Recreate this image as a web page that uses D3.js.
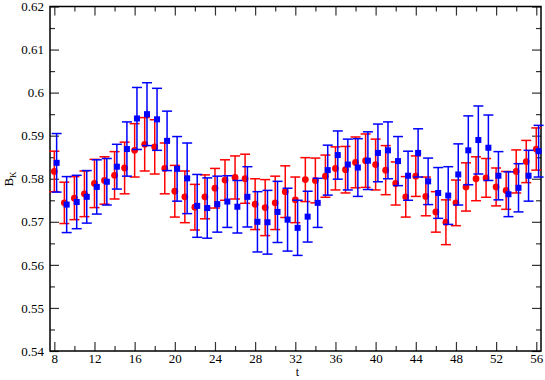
<!DOCTYPE html>
<html>
<head>
<meta charset="utf-8">
<script src="https://cdn.jsdelivr.net/npm/d3@7"></script>
<style>
  body { margin: 0; background: #fff; }
  svg { display: block; }
  .axis path { display: none; }
  .axis line { stroke: #333; stroke-width: 1.2; }
</style>
</head>
<body>
<div id="container"></div>
<script>
// time slices
const tValues = d3.range(8, 57);

// red circles
const redValues = [0.5817, 0.5744, 0.5755, 0.5765, 0.5789, 0.5796, 0.5808, 0.5825, 0.5866, 0.5880,
  0.5874, 0.5824, 0.5771, 0.5758, 0.5734, 0.5758, 0.5778, 0.5797, 0.5803, 0.5800,
  0.5741, 0.5733, 0.5744, 0.5770, 0.5751, 0.5798, 0.5796, 0.5806, 0.5824, 0.5821,
  0.5838, 0.5842, 0.5833, 0.5820, 0.5789, 0.5758, 0.5806, 0.5759, 0.5723, 0.5699,
  0.5744, 0.5781, 0.5800, 0.5802, 0.5781, 0.5773, 0.5817, 0.5840, 0.5869];
const redErrors = [0.0047, 0.0048, 0.0050, 0.0053, 0.0056, 0.0055, 0.0055, 0.0060, 0.0062, 0.0062,
  0.0063, 0.0059, 0.0060, 0.0060, 0.0053, 0.0051, 0.0046, 0.0047, 0.0050, 0.0057,
  0.0059, 0.0065, 0.0062, 0.0060, 0.0053, 0.0051, 0.0052, 0.0049, 0.0050, 0.0054,
  0.0059, 0.0062, 0.0059, 0.0057, 0.0050, 0.0047, 0.0047, 0.0045, 0.0047, 0.0052,
  0.0053, 0.0056, 0.0051, 0.0045, 0.0044, 0.0044, 0.0050, 0.0049, 0.0049];

// blue squares
const blueValues = [0.5837, 0.5740, 0.5746, 0.5758, 0.5781, 0.5793, 0.5828, 0.5869, 0.5940, 0.5950,
  0.5938, 0.5888, 0.5823, 0.5801, 0.5737, 0.5732, 0.5741, 0.5747, 0.5735, 0.5758,
  0.5700, 0.5699, 0.5723, 0.5705, 0.5686, 0.5712, 0.5744, 0.5820, 0.5855, 0.5833,
  0.5826, 0.5842, 0.5860, 0.5866, 0.5841, 0.5807, 0.5860, 0.5794, 0.5767, 0.5761,
  0.5810, 0.5866, 0.5890, 0.5872, 0.5807, 0.5764, 0.5779, 0.5807, 0.5864];
const blueErrors = [0.0068, 0.0065, 0.0062, 0.0061, 0.0063, 0.0054, 0.0052, 0.0063, 0.0072, 0.0073,
  0.0072, 0.0069, 0.0075, 0.0082, 0.0073, 0.0070, 0.0065, 0.0060, 0.0061, 0.0070,
  0.0070, 0.0074, 0.0071, 0.0073, 0.0064, 0.0059, 0.0057, 0.0058, 0.0056, 0.0059,
  0.0067, 0.0067, 0.0067, 0.0066, 0.0057, 0.0057, 0.0056, 0.0054, 0.0059, 0.0067,
  0.0071, 0.0080, 0.0079, 0.0076, 0.0056, 0.0052, 0.0056, 0.0059, 0.0060];
const blueShift = 0.23; // blue set drawn slightly right of the red one

// axis ticks
const xTicks = [8, 12, 16, 20, 24, 28, 32, 36, 40, 44, 48, 52, 56];
const xMinorTicks = [10, 14, 18, 22, 26, 30, 34, 38, 42, 46, 50, 54];
const yTicks = [0.54, 0.55, 0.56, 0.57, 0.58, 0.59, 0.6, 0.61, 0.62];
const yTickLabels = ["0.54", "0.55", "0.56", "0.57", "0.58", "0.59", "0.6", "0.61", "0.62"];
const yMinorTicks = [0.545, 0.555, 0.565, 0.575, 0.585, 0.595, 0.605, 0.615];

const width = 545, height = 380;
const plot = { left: 50, right: 541, top: 6.5, bottom: 351 };
const serif = "'Liberation Serif', 'Times New Roman', Times, serif";

const svg = d3.select("#container").append("svg")
  .attr("width", width)
  .attr("height", height);

const x = d3.scaleLinear().domain([7.57, 56.47]).range([plot.left, plot.right]);
const y = d3.scaleLinear().domain([0.54, 0.62]).range([plot.bottom, plot.top]);

const major = 9, minor = 5;

function styleAxis(g) {
  g.attr("font-family", serif).attr("font-size", 13);
  g.selectAll("text").attr("fill", "#000").style("font-family", serif).style("font-size", "13px");
}

// bottom axis
svg.append("g").attr("class", "axis")
  .attr("transform", "translate(0," + plot.bottom + ")")
  .call(d3.axisBottom(x).tickValues(xTicks).tickSize(-major).tickPadding(3).tickFormat(d3.format("d")))
  .call(styleAxis);
svg.append("g").attr("class", "axis")
  .attr("transform", "translate(0," + plot.bottom + ")")
  .call(d3.axisBottom(x).tickValues(xMinorTicks).tickSize(-minor).tickFormat(""));
// top axis
svg.append("g").attr("class", "axis")
  .attr("transform", "translate(0," + plot.top + ")")
  .call(d3.axisTop(x).tickValues(xTicks).tickSize(-major).tickFormat(""));
svg.append("g").attr("class", "axis")
  .attr("transform", "translate(0," + plot.top + ")")
  .call(d3.axisTop(x).tickValues(xMinorTicks).tickSize(-minor).tickFormat(""));
// left axis
svg.append("g").attr("class", "axis")
  .attr("transform", "translate(" + plot.left + ",0)")
  .call(d3.axisLeft(y).tickValues(yTicks).tickSize(-major).tickPadding(6)
    .tickFormat((d, i) => yTickLabels[i]))
  .call(styleAxis);
svg.append("g").attr("class", "axis")
  .attr("transform", "translate(" + plot.left + ",0)")
  .call(d3.axisLeft(y).tickValues(yMinorTicks).tickSize(-minor).tickFormat(""));
// right axis
svg.append("g").attr("class", "axis")
  .attr("transform", "translate(" + plot.right + ",0)")
  .call(d3.axisRight(y).tickValues(yTicks).tickSize(-major).tickFormat(""));
svg.append("g").attr("class", "axis")
  .attr("transform", "translate(" + plot.right + ",0)")
  .call(d3.axisRight(y).tickValues(yMinorTicks).tickSize(-minor).tickFormat(""));

// frame
svg.append("rect")
  .attr("x", plot.left).attr("y", plot.top)
  .attr("width", plot.right - plot.left).attr("height", plot.bottom - plot.top)
  .attr("fill", "none").attr("stroke", "#000").attr("stroke-width", 1.5);

// axis titles
svg.append("text")
  .attr("x", (plot.left + plot.right) / 2 + 2).attr("y", 376)
  .attr("text-anchor", "middle")
  .style("font-family", serif).style("font-size", "12px")
  .text("t");

const yTitle = svg.append("text")
  .attr("transform", "translate(13,179) rotate(-90)")
  .attr("text-anchor", "middle")
  .style("font-family", serif).style("font-size", "13px");
yTitle.append("tspan").text("B");
yTitle.append("tspan").attr("dy", 3).style("font-size", "9px").text("K");

function drawSet(values, errors, shift, color, shape) {
  const data = tValues.map((t, i) => ({ t: t + shift, v: values[i], e: errors[i] }));
  const g = svg.append("g");
  const cap = 5;

  g.selectAll("line.bar").data(data).enter().append("line")
    .attr("x1", d => x(d.t)).attr("x2", d => x(d.t))
    .attr("y1", d => y(d.v + d.e)).attr("y2", d => y(d.v - d.e))
    .attr("stroke", color).attr("stroke-width", 1.5);
  g.selectAll("line.top").data(data).enter().append("line")
    .attr("x1", d => x(d.t) - cap).attr("x2", d => x(d.t) + cap)
    .attr("y1", d => y(d.v + d.e)).attr("y2", d => y(d.v + d.e))
    .attr("stroke", color).attr("stroke-width", 1.5);
  g.selectAll("line.bottom").data(data).enter().append("line")
    .attr("x1", d => x(d.t) - cap).attr("x2", d => x(d.t) + cap)
    .attr("y1", d => y(d.v - d.e)).attr("y2", d => y(d.v - d.e))
    .attr("stroke", color).attr("stroke-width", 1.5);

  if (shape === "circle") {
    g.selectAll("circle").data(data).enter().append("circle")
      .attr("cx", d => x(d.t)).attr("cy", d => y(d.v))
      .attr("r", 3.4).attr("fill", color);
  } else {
    g.selectAll("rect").data(data).enter().append("rect")
      .attr("x", d => x(d.t) - 3).attr("y", d => y(d.v) - 3)
      .attr("width", 6).attr("height", 6).attr("fill", color);
  }
}

drawSet(redValues, redErrors, 0, "#ff0000", "circle");
drawSet(blueValues, blueErrors, blueShift, "#0000ff", "square");
</script>
</body>
</html>
